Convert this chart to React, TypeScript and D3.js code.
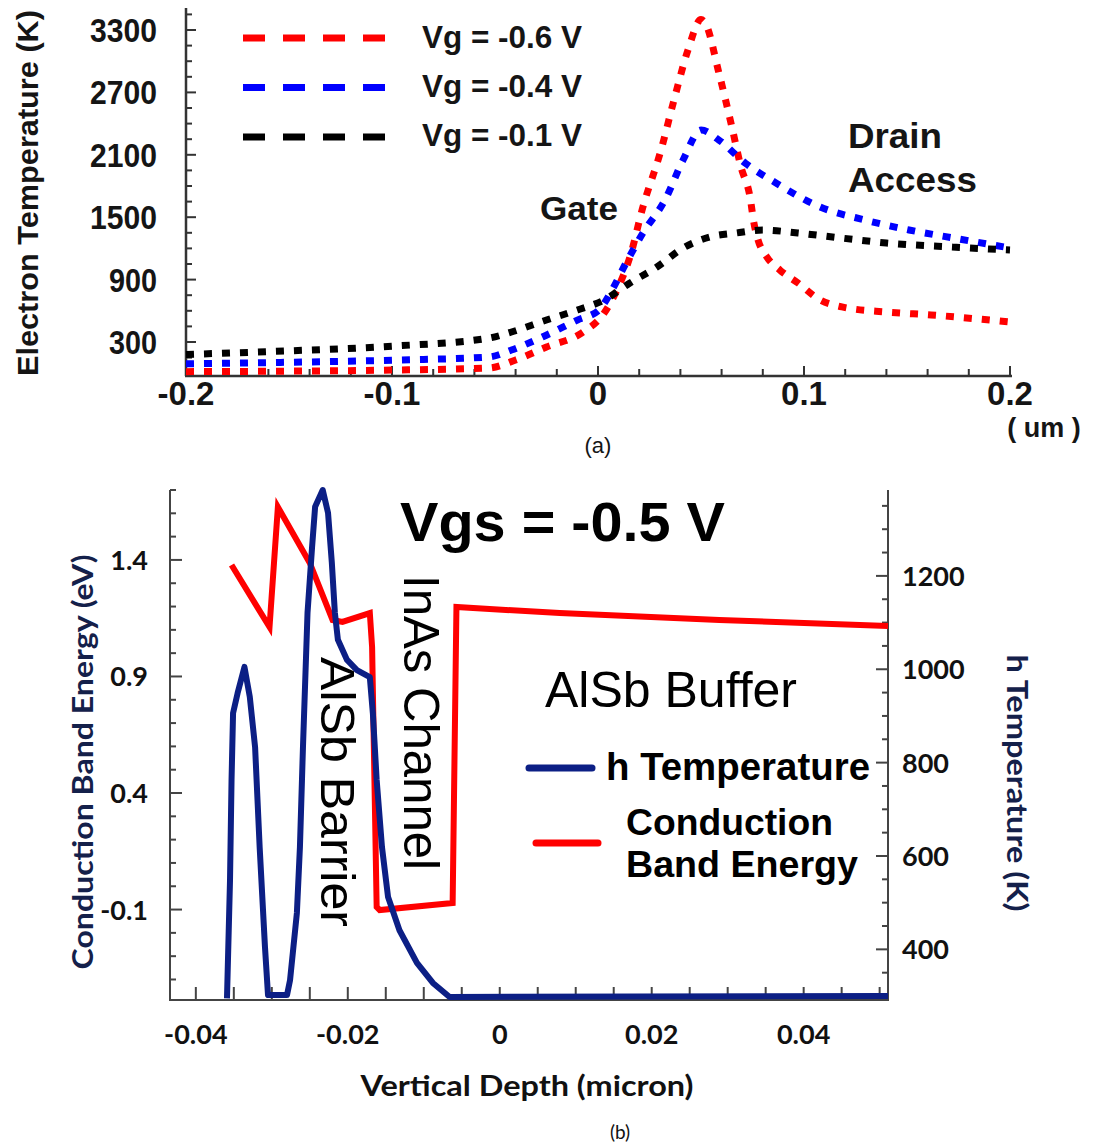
import React from 'react';
import * as d3 from 'd3';

// ---------- Panel (a) data: Electron temperature vs position (um) ----------
const vg06X = [-0.2, -0.15, -0.1, -0.053, -0.04, -0.025, -0.008, 0.003, 0.0092, 0.0155, 0.0218, 0.0306, 0.0369, 0.0437, 0.05, 0.052, 0.0587, 0.065, 0.0694, 0.0738, 0.0757, 0.0777, 0.082, 0.0883, 0.0971, 0.1078, 0.1184, 0.1403, 0.1617, 0.2];
const vg06T = [15, 20, 30, 50, 127, 252, 386, 579, 800, 1117, 1598, 2146, 2627, 3108, 3400, 3369, 2887, 2367, 1983, 1694, 1444, 1281, 1117, 992, 867, 704, 637, 588, 560, 492];
const vg04X = [-0.2, -0.15, -0.096, -0.053, -0.042, -0.027, -0.01, 0.0005, 0.0068, 0.0136, 0.0218, 0.0325, 0.0413, 0.05, 0.0587, 0.0714, 0.0864, 0.1078, 0.1296, 0.151, 0.1725, 0.2];
const vg04T = [90, 105, 127, 156, 223, 348, 511, 608, 800, 1060, 1348, 1665, 2050, 2338, 2242, 2021, 1829, 1598, 1473, 1377, 1300, 1204];
const vg01X = [-0.2, -0.15, -0.1, -0.053, -0.042, -0.025, -0.01, 0.003, 0.0155, 0.0286, 0.0413, 0.0544, 0.067, 0.08, 0.097, 0.118, 0.14, 0.172, 0.2];
const vg01T = [180, 215, 260, 337, 396, 511, 608, 704, 867, 1021, 1204, 1310, 1348, 1377, 1348, 1300, 1252, 1213, 1185];

const topYTicks = [300, 900, 1500, 2100, 2700, 3300];
const topXTicks = [-0.2, -0.1, 0, 0.1, 0.2];
const topLegend = ['Vg = -0.6 V', 'Vg = -0.4 V', 'Vg = -0.1 V'];
const topColors = ['#ff0000', '#0000ff', '#000000'];

// ---------- Panel (b) data: vertical depth (micron) ----------
const cbeX = [-0.0353, -0.0303, -0.0292, -0.025, -0.022, -0.0207, -0.0171, -0.0168, -0.0162, -0.0158, -0.0062, -0.0057, 0.0079, 0.0289, 0.0511];
const cbeE = [1.378, 1.112, 1.627, 1.387, 1.142, 1.134, 1.172, 1.026, -0.089, -0.102, -0.072, 1.198, 1.172, 1.142, 1.117];
const hTempX = [-0.0359, -0.0355, -0.0353, -0.0351, -0.0345, -0.0336, -0.0329, -0.0322, -0.0316, -0.0309, -0.0305,
  -0.028, -0.0276, -0.0267, -0.0263, -0.0259, -0.0253, -0.0247, -0.0243, -0.0233, -0.0226, -0.0221, -0.0217, -0.0213,
  -0.0201, -0.0188, -0.0171, -0.0167, -0.0162, -0.0155, -0.0147, -0.0132, -0.0109, -0.0088, -0.0066, 0.0511];
const hTempT = [295, 549, 763, 906, 949, 1005, 941, 833, 619, 405, 302,
  302, 334, 478, 619, 833, 1121, 1262, 1348, 1384, 1335, 1228, 1121, 1063,
  1020, 998, 983, 906, 763, 619, 512, 441, 371, 328, 298, 300];

const bLeftTicks = [1.4, 0.9, 0.4, -0.1];
const bRightTicks = [400, 600, 800, 1000, 1200];
const bXTicks = [-0.04, -0.02, 0, 0.02, 0.04];

const NARROW = "'Liberation Sans Narrow', 'Arial Narrow', 'Liberation Sans', Arial, sans-serif";
const ARIAL = "'Liberation Sans', Arial, sans-serif";
const CAL = "Lato, 'Open Sans', 'Liberation Sans', sans-serif";

export default function App() {
  // ---- panel (a) scales
  const xA = d3.scaleLinear().domain([-0.2, 0.2]).range([186, 1010]);
  const yA = d3.scaleLinear().domain([0, 3300]).range([373.2, 30]);
  const lineA = (xs: number[], ys: number[]) =>
    d3.line<number>().x((_, i) => xA(xs[i])).y((_, i) => yA(ys[i])).curve(d3.curveMonotoneX)(xs) || '';
  const seriesA = [
    { xs: vg06X, ys: vg06T },
    { xs: vg04X, ys: vg04T },
    { xs: vg01X, ys: vg01T },
  ];
  const axisBottomA = 376;
  const minorYA = d3.range(1, 24).map((i) => i * 150);
  const minorXA = d3.range(-10, 11).map((i) => i * 0.02);

  // ---- panel (b) scales
  const xB = d3.scaleLinear().domain([-0.0434, 0.0511]).range([170, 888]);
  const yL = d3.scaleLinear().domain([-0.488, 1.7]).range([1000, 490]);
  const yR = d3.scaleLinear().domain([291.5, 1384]).range([1000, 490]);
  const cbePath = d3.line<number>().x((_, i) => xB(cbeX[i])).y((_, i) => yL(cbeE[i]))(cbeX) || '';
  const hPath = d3.line<number>().x((_, i) => xB(hTempX[i])).y((_, i) => yR(hTempT[i]))(hTempX) || '';
  const minorL = d3.range(-4, 18).map((i) => i / 10);
  const minorR = d3.range(6, 28).map((i) => i * 50);
  const minorXB = d3.range(-8, 11).map((i) => i * 0.005);

  const fmt = (d: number) => (Math.abs(d) < 1e-9 ? '0' : String(+d.toFixed(3)));

  return (
    <svg width={1094} height={1145} style={{ position: 'absolute', left: 0, top: 0, background: '#fff' }}>
      <rect width={1094} height={1145} fill="#fff" />
      {/* ================= Panel (a) ================= */}
      <g>
        <line x1={186} y1={8} x2={186} y2={axisBottomA} stroke="#333" strokeWidth={2.5} />
        <line x1={185} y1={axisBottomA} x2={1012} y2={axisBottomA} stroke="#333" strokeWidth={2.5} />
        {minorYA.map((v, i) => {
          const major = (i + 1) % 4 === 2;
          return <line key={'ya' + i} x1={186} x2={186 + (major ? 10 : 6)} y1={yA(v)} y2={yA(v)} stroke="#333" strokeWidth={2} />;
        })}
        {minorXA.map((v, i) => {
          const major = Math.abs(Math.round(v * 10) - v * 10) < 1e-6;
          return <line key={'xa' + i} x1={xA(v)} x2={xA(v)} y1={axisBottomA} y2={axisBottomA - (major ? 10 : 7)} stroke="#333" strokeWidth={2} />;
        })}
        {topYTicks.map((v) => (
          <text key={'yl' + v} x={157} y={yA(v) + 12} textAnchor="end" fontFamily={NARROW} fontWeight="bold" fontSize={33} fill="#151515"
            textLength={String(v).length === 4 ? 67 : 48} lengthAdjust="spacingAndGlyphs">{v}</text>
        ))}
        {topXTicks.map((v) => (
          <text key={'xl' + v} x={xA(v)} y={405} textAnchor="middle" fontFamily={NARROW} fontWeight="bold" fontSize={33} fill="#151515">{fmt(v)}</text>
        ))}
        <text transform="translate(38,193) rotate(-90)" textAnchor="middle" fontFamily={NARROW} fontWeight="bold" fontSize={30} fill="#151515" textLength={366} lengthAdjust="spacingAndGlyphs">Electron Temperature (K)</text>
        <text x={1044} y={437} textAnchor="middle" fontFamily={NARROW} fontWeight="bold" fontSize={27} fill="#151515">( um )</text>
        <text x={598} y={453} textAnchor="middle" fontFamily={ARIAL} fontSize={22} fill="#151515">(a)</text>

        {seriesA.map((s, k) => (
          <path key={'sa' + k} d={lineA(s.xs, s.ys)} fill="none" stroke={topColors[k]} strokeWidth={7} strokeDasharray="8 10" />
        ))}

        {topLegend.map((t, k) => (
          <g key={'lg' + k}>
            <line x1={243} x2={386} y1={38 + k * 49.5} y2={38 + k * 49.5} stroke={topColors[k]} strokeWidth={7} strokeDasharray="22 18" />
            <text x={422} y={48 + k * 49} fontFamily={NARROW} fontWeight="bold" fontSize={32} fill="#151515" textLength={160} lengthAdjust="spacingAndGlyphs">{t}</text>
          </g>
        ))}
        <text x={540} y={220} fontFamily={NARROW} fontWeight="bold" fontSize={34} fill="#151515" textLength={78} lengthAdjust="spacingAndGlyphs">Gate</text>
        <text x={848} y={148} fontFamily={NARROW} fontWeight="bold" fontSize={35} fill="#151515" textLength={94} lengthAdjust="spacingAndGlyphs">Drain</text>
        <text x={848} y={192} fontFamily={NARROW} fontWeight="bold" fontSize={35} fill="#151515" textLength={129} lengthAdjust="spacingAndGlyphs">Access</text>
      </g>

      {/* ================= Panel (b) ================= */}
      <g>
        <line x1={170} y1={490} x2={170} y2={1001} stroke="#444" strokeWidth={2} />
        <line x1={888} y1={490} x2={888} y2={1001} stroke="#444" strokeWidth={2} />
        <line x1={169} y1={1000} x2={889} y2={1000} stroke="#444" strokeWidth={2} />
        {minorL.map((v, i) => {
          const major = bLeftTicks.some((t) => Math.abs(t - v) < 1e-6);
          return <line key={'bl' + i} x1={170} x2={170 + (major ? 12 : 6)} y1={yL(v)} y2={yL(v)} stroke="#444" strokeWidth={2} />;
        })}
        {minorR.map((v, i) => {
          const major = v % 200 === 0;
          return <line key={'br' + i} x1={888} x2={888 - (major ? 12 : 6)} y1={yR(v)} y2={yR(v)} stroke="#444" strokeWidth={2} />;
        })}
        {minorXB.map((v, i) => (
          <line key={'bx' + i} x1={xB(v)} x2={xB(v)} y1={1000} y2={987} stroke="#444" strokeWidth={2} />
        ))}
        {bLeftTicks.map((v) => (
          <text key={'blt' + v} x={148} y={yL(v) + 10} textAnchor="end" fontFamily={CAL} fontWeight="bold" fontSize={27} fill="#111">{fmt(v)}</text>
        ))}
        {bRightTicks.map((v) => (
          <text key={'brt' + v} x={902} y={yR(v) + 10} textAnchor="start" fontFamily={CAL} fontWeight="bold" fontSize={27} fill="#111">{v}</text>
        ))}
        {bXTicks.map((v) => (
          <text key={'bxt' + v} x={xB(v)} y={1044} textAnchor="middle" fontFamily={CAL} fontWeight="bold" fontSize={27} fill="#111">{fmt(v)}</text>
        ))}
        <text transform="translate(93,762) rotate(-90)" textAnchor="middle" fontFamily={CAL} fontWeight="bold" fontSize={28} fill="#14204a" textLength={415} lengthAdjust="spacingAndGlyphs">Conduction Band  Energy (eV)</text>
        <text transform="translate(1007,783) rotate(90)" textAnchor="middle" fontFamily={CAL} fontWeight="bold" fontSize={28} fill="#14204a" textLength={257} lengthAdjust="spacingAndGlyphs">h Temperature (K)</text>
        <text x={527} y={1096} textAnchor="middle" fontFamily={CAL} fontWeight="bold" fontSize={29} fill="#111" textLength={333} lengthAdjust="spacingAndGlyphs">Vertical Depth (micron)</text>
        <text x={620} y={1139} textAnchor="middle" fontFamily={CAL} fontSize={19} fill="#111">(b)</text>

        <path d={cbePath} fill="none" stroke="#ff0000" strokeWidth={6} strokeLinejoin="miter" />
        <path d={hPath} fill="none" stroke="#0c1f85" strokeWidth={6} strokeLinejoin="round" />

        <text x={400} y={541} fontFamily={ARIAL} fontWeight="bold" fontSize={56} fill="#000" textLength={325} lengthAdjust="spacingAndGlyphs">Vgs = -0.5 V</text>
        <text x={545} y={707} fontFamily={ARIAL} fontSize={50} fill="#000" textLength={252} lengthAdjust="spacingAndGlyphs">AlSb Buffer</text>
        <text transform="translate(404,575) rotate(90)" fontFamily={ARIAL} fontSize={50} fill="#000" textLength={295} lengthAdjust="spacingAndGlyphs">InAs Channel</text>
        <text transform="translate(321,657) rotate(90)" fontFamily={ARIAL} fontSize={49} fill="#000" textLength={270} lengthAdjust="spacingAndGlyphs">AlSb Barrier</text>

        <line x1={529} x2={592} y1={768} y2={768} stroke="#0c1f85" strokeWidth={7} strokeLinecap="round" />
        <text x={606} y={780} fontFamily={ARIAL} fontWeight="bold" fontSize={38} fill="#000" textLength={264} lengthAdjust="spacingAndGlyphs">h Temperature</text>
        <line x1={536} x2={598} y1={843} y2={843} stroke="#ff0000" strokeWidth={7} strokeLinecap="round" />
        <text x={626} y={835} fontFamily={ARIAL} fontWeight="bold" fontSize={37} fill="#000" textLength={207} lengthAdjust="spacingAndGlyphs">Conduction</text>
        <text x={626} y={877} fontFamily={ARIAL} fontWeight="bold" fontSize={37} fill="#000" textLength={232} lengthAdjust="spacingAndGlyphs">Band Energy</text>
      </g>
    </svg>
  );
}
